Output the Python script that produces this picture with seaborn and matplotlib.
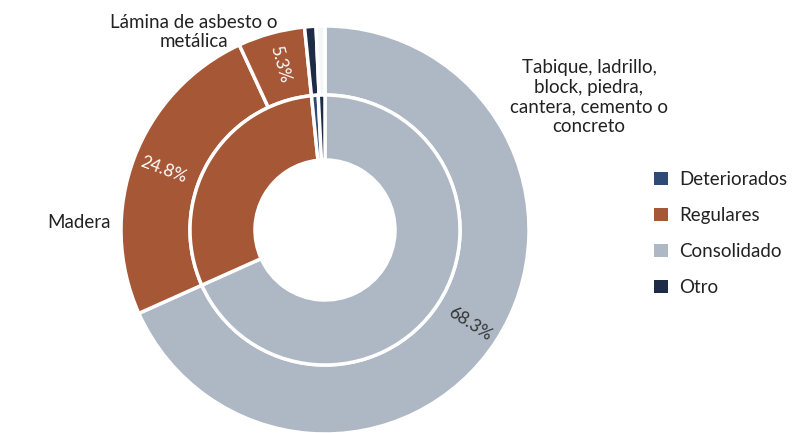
import matplotlib
matplotlib.use("Agg")
import matplotlib.pyplot as plt
import seaborn as sns
import numpy as np
from matplotlib.patches import Patch

sns.set_theme(style="white")
plt.rcParams['font.family'] = ['Lato', 'DejaVu Sans']

# outer ring: material of the roof
material_labels = ["Tabique, ladrillo,\nblock, piedra,\ncantera, cemento o\nconcreto",
                   "Madera", "Lámina de asbesto o\nmetálica", "Otro material", "No especificado"]
material_values = [68.3, 24.8, 5.3, 0.9, 0.7]

# inner ring: condition
condition_labels = ["Consolidado", "Regulares", "Deteriorados", "Otro"]
condition_values = [68.3, 30.1, 0.8, 0.8]

legend_labels = ["Deteriorados", "Regulares", "Consolidado", "Otro"]

gray = "#aeb8c5"
brown = "#a65736"
blue = "#2f4a75"
navy = "#1d2b46"
outer_colors = [gray, brown, brown, navy, "#f4f5f7"]
inner_colors = [gray, brown, blue, navy]
legend_colors = [blue, brown, gray, navy]

fig = plt.figure(figsize=(7.93, 4.33), dpi=100)
ax = fig.add_axes([0, 0, 1, 1])
ax.axis("off")

cx, cy = 325, 203
r_out, r_mid, r_in = 204, 135, 70

wedges, _ = ax.pie(material_values, radius=r_out, center=(cx, cy), colors=outer_colors,
                   startangle=90, counterclock=False,
                   wedgeprops=dict(width=r_out - r_mid, edgecolor="white", linewidth=2.5))
ax.pie(condition_values, radius=r_mid, center=(cx, cy), colors=inner_colors,
       startangle=90, counterclock=False,
       wedgeprops=dict(width=r_mid - r_in, edgecolor="white", linewidth=2.5))
ax.set_xlim(0, 793)
ax.set_ylim(0, 433)
ax.set_aspect("equal")

# rotated percentage labels along the radius
pct_colors = ["#333333", "white", "white"]
for w, v, c in zip(wedges[:3], material_values[:3], pct_colors):
    mid = (w.theta1 + w.theta2) / 2
    rad = np.deg2rad(mid)
    x = cx + 0.845 * r_out * np.cos(rad)
    y = cy + 0.845 * r_out * np.sin(rad)
    rot = mid if np.cos(rad) >= 0 else mid - 180
    ax.text(x, y, f"{v}%", rotation=rot, rotation_mode="anchor",
            ha="center", va="center", fontsize=12.5, color=c)

# category labels
ax.text(589, 336, material_labels[0], ha="center", va="center", fontsize=13.5,
        color="#222222", linespacing=1.2)
ax.text(111, 211, material_labels[1], ha="right", va="center", fontsize=13.5, color="#222222")
ax.text(194, 401, material_labels[2], ha="center", va="center", fontsize=13.5,
        color="#222222", linespacing=1.1)

handles = [Patch(facecolor=c, edgecolor="none") for c in legend_colors]
ax.legend(handles, legend_labels, loc="upper left", bbox_to_anchor=(0.804, 0.643),
          frameon=False, fontsize=13.5, handlelength=0.7, handleheight=0.7,
          handletextpad=0.6, labelspacing=1.0, labelcolor="#222222")

fig.savefig("out.png", dpi=100)
